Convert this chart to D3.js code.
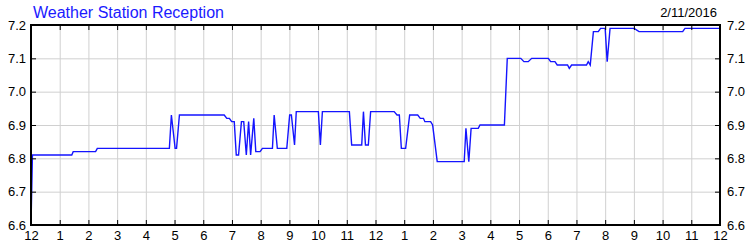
<!DOCTYPE html>
<html>
<head>
<meta charset="utf-8">
<script src="https://cdn.jsdelivr.net/npm/d3@7"></script>
<style>
  body { margin: 0; background: #fff; }
  svg { display: block; font-family: "Liberation Sans", Arial, sans-serif; }
</style>
</head>
<body>
<svg id="chart" width="750" height="250"></svg>
<script>
// hour of day (0 = midnight, 24 = next midnight) and reading
const hours = [0.00, 0.05, 1.42, 1.47, 2.25, 2.31, 4.82, 4.89, 5.02, 5.07, 5.17, 6.73, 6.82, 6.91, 6.99, 7.08,
  7.15, 7.23, 7.33, 7.41, 7.50, 7.58, 7.65, 7.76, 7.83, 7.98, 8.06, 8.41, 8.47, 8.58, 8.91, 9.01, 9.07,
  9.18, 9.24, 10.01, 10.08, 10.15, 11.09, 11.17, 11.52, 11.58, 11.65, 11.75, 11.83, 12.65, 12.75, 12.83,
  12.90, 13.05, 13.19, 13.47, 13.56, 13.67, 13.72, 13.92, 13.99, 14.15, 15.09, 15.15, 15.25, 15.33, 15.58,
  15.64, 16.49, 16.59, 17.06, 17.17, 17.32, 17.44, 18.02, 18.10, 18.25, 18.33, 18.69, 18.75, 18.83, 19.35,
  19.41, 19.48, 19.59, 19.76, 19.84, 20.00, 20.07, 20.17, 21.01, 21.18, 22.70, 22.78, 24.00];
const values = [6.60, 6.81, 6.81, 6.82, 6.82, 6.83, 6.83, 6.93, 6.83, 6.83, 6.93, 6.93, 6.92, 6.92, 6.91, 6.91,
  6.81, 6.81, 6.91, 6.91, 6.81, 6.91, 6.81, 6.92, 6.82, 6.82, 6.83, 6.83, 6.93, 6.83, 6.83, 6.93, 6.93,
  6.84, 6.94, 6.94, 6.84, 6.94, 6.94, 6.84, 6.84, 6.94, 6.84, 6.84, 6.94, 6.94, 6.93, 6.93,
  6.83, 6.83, 6.93, 6.93, 6.92, 6.92, 6.91, 6.91, 6.90, 6.79, 6.79, 6.89, 6.79, 6.89, 6.89,
  6.90, 6.90, 7.10, 7.10, 7.09, 7.09, 7.10, 7.10, 7.09, 7.09, 7.08, 7.08, 7.07, 7.08, 7.08,
  7.09, 7.08, 7.18, 7.18, 7.19, 7.19, 7.09, 7.19, 7.19, 7.18, 7.18, 7.19, 7.19];

const hourTicks = d3.range(0, 25);
const hourLabels = ["12", "1", "2", "3", "4", "5", "6", "7", "8", "9", "10", "11",
  "12", "1", "2", "3", "4", "5", "6", "7", "8", "9", "10", "11", "12"];
const valueTicks = [6.6, 6.7, 6.8, 6.9, 7.0, 7.1, 7.2];

const title = "Weather Station Reception";
const dateText = "2/11/2016";

const plotLeft = 31, plotRight = 720, plotTop = 25, plotBottom = 225;

const svg = d3.select('#chart');

const x = d3.scaleLinear().domain([0, 24]).range([plotLeft, plotRight]);
const y = d3.scaleLinear().domain([6.6, 7.2]).range([plotBottom, plotTop]);

// grid
svg.append('g')
  .attr('transform', `translate(0,${plotBottom})`)
  .call(d3.axisBottom(x).tickValues(hourTicks).tickSize(-(plotBottom - plotTop)).tickFormat(''))
  .call(g => g.select('.domain').remove())
  .call(g => g.selectAll('line').attr('stroke', '#d0d0d0'));
svg.append('g')
  .attr('transform', `translate(${plotLeft},0)`)
  .call(d3.axisLeft(y).tickValues(valueTicks).tickSize(-(plotRight - plotLeft)).tickFormat(''))
  .call(g => g.select('.domain').remove())
  .call(g => g.selectAll('line').attr('stroke', '#d0d0d0'));

// data line
const line = d3.line()
  .x((d, i) => x(hours[i]))
  .y(d => y(d));

svg.append('path')
  .datum(values)
  .attr('d', line)
  .attr('fill', 'none')
  .attr('stroke', '#1414ff')
  .attr('stroke-width', 1.4);

// frame
svg.append('rect')
  .attr('x', plotLeft).attr('y', plotTop)
  .attr('width', plotRight - plotLeft).attr('height', plotBottom - plotTop)
  .attr('fill', 'none')
  .attr('stroke', '#000')
  .attr('stroke-width', 2);

function tickStyle(g) {
  g.select('.domain').remove();
  g.selectAll('line').attr('stroke', '#000');
  g.selectAll('text').attr('fill', '#000').attr('font-size', 13)
    .attr('font-family', '"Liberation Sans", Arial, sans-serif');
}

svg.append('g')
  .attr('transform', `translate(0,${plotBottom})`)
  .call(d3.axisBottom(x).tickValues(hourTicks).tickSize(-5).tickSizeOuter(0).tickPadding(6)
    .tickFormat((d, i) => hourLabels[i]))
  .call(tickStyle);
svg.append('g')
  .attr('transform', `translate(0,${plotTop})`)
  .call(d3.axisTop(x).tickValues(hourTicks).tickSize(-5).tickSizeOuter(0).tickFormat(''))
  .call(tickStyle);
svg.append('g')
  .attr('transform', `translate(${plotLeft},0)`)
  .call(d3.axisLeft(y).tickValues(valueTicks).tickSize(-5).tickSizeOuter(0).tickPadding(5)
    .tickFormat(d3.format('.1f')))
  .call(tickStyle);
svg.append('g')
  .attr('transform', `translate(${plotRight},0)`)
  .call(d3.axisRight(y).tickValues(valueTicks).tickSize(-5).tickSizeOuter(0).tickPadding(7)
    .tickFormat(d3.format('.1f')))
  .call(tickStyle);

svg.append('text')
  .attr('x', 33).attr('y', 17.5)
  .attr('fill', '#1a1aff')
  .attr('font-size', 16)
  .text(title);

svg.append('text')
  .attr('x', 717).attr('y', 17)
  .attr('text-anchor', 'end')
  .attr('fill', '#000')
  .attr('font-size', 13)
  .text(dateText);
</script>
</body>
</html>
